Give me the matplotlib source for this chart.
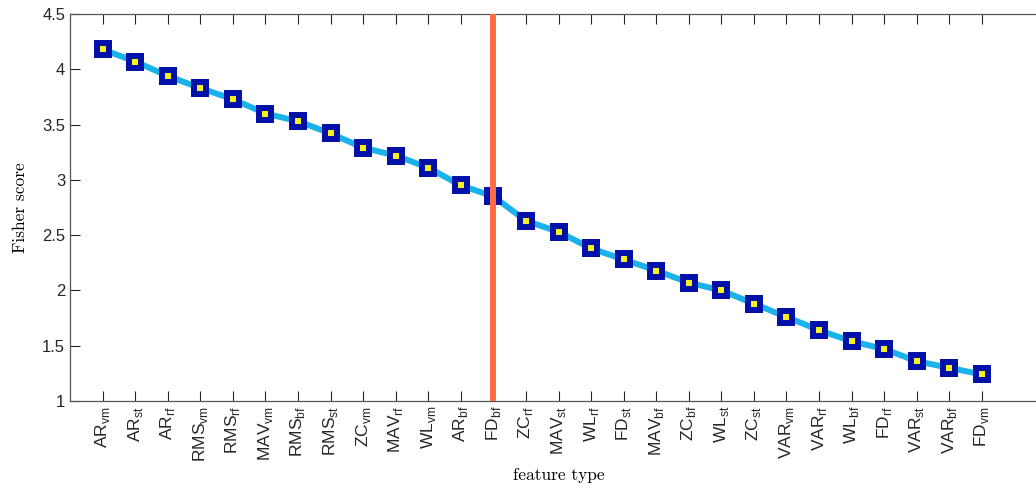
import matplotlib
matplotlib.use("Agg")
import matplotlib.pyplot as plt

features = ["AR", "AR", "AR", "RMS", "RMS", "MAV", "RMS", "RMS", "ZC", "MAV",
            "WL", "AR", "FD", "ZC", "MAV", "WL", "FD", "MAV", "ZC", "WL",
            "ZC", "VAR", "VAR", "WL", "FD", "VAR", "VAR", "FD"]
subs = ["vm", "st", "rf", "vm", "rf", "vm", "bf", "st", "vm", "rf",
        "vm", "bf", "bf", "rf", "st", "rf", "st", "bf", "bf", "st",
        "st", "vm", "rf", "bf", "rf", "st", "bf", "vm"]
scores = [4.18, 4.07, 3.94, 3.83, 3.73, 3.60, 3.53, 3.42, 3.29, 3.22,
          3.11, 2.95, 2.85, 2.63, 2.53, 2.38, 2.28, 2.18, 2.07, 2.00,
          1.88, 1.76, 1.64, 1.54, 1.47, 1.36, 1.30, 1.24]
cut_index = 13  # FD_bf

labels = [f"{f}$_\\mathregular{{{s}}}$" for f, s in zip(features, subs)]
x = list(range(1, len(scores) + 1))

plt.rcParams['font.family'] = ['Liberation Sans', 'DejaVu Sans']

fig = plt.figure(figsize=(10.36, 4.92), dpi=100)
# axes run past the right edge of the figure, as in the original
ax = fig.add_axes([70 / 1036, 91 / 492, 977 / 1036, 387 / 492])

ax.plot(x, scores, color='#1ab2ea', lw=4.3, marker='s', ms=8.6,
        mfc='#f5f01e', mec='#0010a8', mew=4.3, zorder=3)
ax.axvline(cut_index, color='#ff6c47', lw=4.3, zorder=4)

ax.set_xlim(0, 30)
ax.set_ylim(1, 4.5)
ax.set_xticks(x)
ax.set_xticklabels(labels, rotation=90, fontsize=12.5)
ax.set_yticks([1, 1.5, 2, 2.5, 3, 3.5, 4, 4.5])
ax.set_yticklabels(["1", "1.5", "2", "2.5", "3", "3.5", "4", "4.5"], fontsize=12)
ax.tick_params(direction='in', length=7, top=True, right=True, color='#262626',
               labelcolor='#262626', width=0.8)
for sp in ax.spines.values():
    sp.set_color('#555555')
    sp.set_linewidth(0.9)

ax.set_xlabel("feature type", family='cmr10', fontsize=12.5, labelpad=4)
ax.set_ylabel("Fisher score", family='cmr10', fontsize=12.5, labelpad=10)

fig.savefig("out.png", dpi=100)
